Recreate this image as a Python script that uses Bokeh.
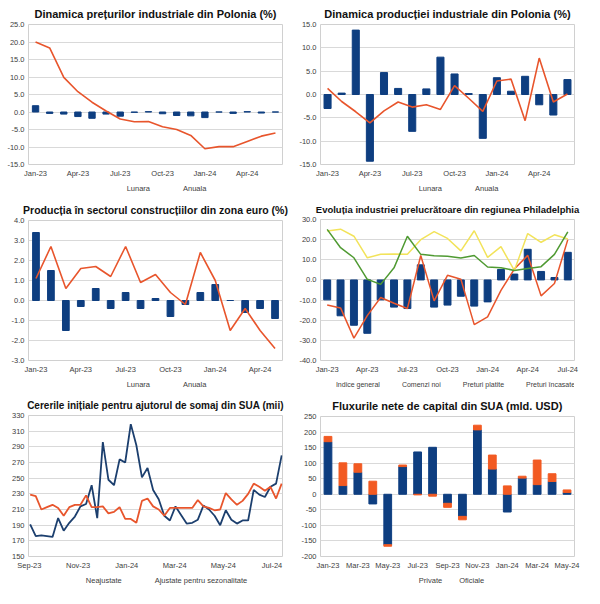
from datetime import datetime
from bokeh.plotting import figure
from bokeh.models import Range1d, FixedTicker, Legend, LegendItem
from bokeh.layouts import row, column
from bokeh.embed import file_html
from bokeh.resources import INLINE

# ---------------- data ----------------
months_23_24 = ["Jan-23", "Feb-23", "Mar-23", "Apr-23", "May-23", "Jun-23", "Jul-23", "Aug-23",
                "Sep-23", "Oct-23", "Nov-23", "Dec-23", "Jan-24", "Feb-24", "Mar-24", "Apr-24",
                "May-24", "Jun-24", "Jul-24"]

# 1. Dinamica preturilor industriale din Polonia (Jan-23 .. Jun-24)
ppi_lunara = [1.8, -0.4, -0.6, -1.3, -1.8, -0.6, -1.2, -0.1, 0.1, -0.5, -1.0, -1.1,
              -1.6, 0.0, -0.4, 0.1, -0.3, 0.0]
ppi_anuala = [20.0, 18.3, 9.9, 5.8, 2.8, 0.3, -2.0, -2.8, -2.7, -4.2, -5.0, -6.7,
              -10.5, -9.9, -9.9, -8.4, -6.9, -6.0]
ppi_yticks = [-15, -10, -5, 0, 5, 10, 15, 20, 25]

# 2. Dinamica productiei industriale din Polonia (Jan-23 .. Jun-24)
ip_lunara = [-3.0, 0.3, 13.8, -14.3, 4.7, 1.3, -7.9, 1.2, 8.0, 4.4, 0.2, -9.4,
             3.6, 0.7, 3.9, -2.2, -4.4, 3.2]
ip_anuala = [1.3, -1.5, -3.7, -6.1, -3.5, -1.6, -2.7, -2.2, -3.2, 1.9, -0.8, -3.6,
             2.9, 3.3, -5.6, 7.8, -1.6, 0.1]
ip_yticks = [-15, -10, -5, 0, 5, 10, 15]

# 3. Productia in sectorul constructiilor din zona euro (Jan-23 .. May-24)
con_lunara = [3.4, 1.5, -1.5, -0.3, 0.6, -0.4, 0.4, -0.4, 0.1, -0.8, -0.2, 0.4,
              0.8, 0.0, -0.6, -0.4, -0.9]
con_anuala = [1.1, 2.7, 0.6, 1.6, 1.7, 1.2, 2.7, 0.9, 1.3, 0.4, -0.2, 2.4,
              1.0, -1.5, -0.4, -1.5, -2.4]
con_yticks = [-3, -2, -1, 0, 1, 2, 3, 4]

# 4. Philadelphia (Jan-23 .. Jul-24)
ph_indice = [-9.9, -17.8, -22.5, -26.5, -9.9, -13.5, -14.2, 7.5, -13.5, -12.5, -8.1, -13.0,
             -10.9, 5.2, 2.9, 15.2, 4.2, 1.2, 13.7]
ph_comenzi = [-12.5, -13.9, -28.9, -17.7, -8.7, -11.6, -14.2, 12.1, -10.4, 2.3, 0.3, -22.2,
              -18.3, -5.2, 5.4, 12.2, -7.9, -1.8, 20.0]
ph_platite = [24.3, 25.2, 21.7, 11.0, 12.7, 12.9, 12.7, 20.0, 24.0, 20.6, 14.4, 24.4,
              11.2, 16.5, 4.7, 23.0, 18.7, 22.4, 20.3]
ph_incasate = [25.1, 16.0, 11.0, 0.3, -2.2, 6.0, 21.7, 12.7, 12.0, 11.8, 10.9, 12.1,
               6.4, 6.1, 4.7, 5.7, 6.6, 12.7, 23.9]
ph_yticks = [-40, -30, -20, -10, 0, 10, 20, 30]

# 5. Cererile initiale de somaj SUA (weekly, first week ending 2 Sep 2023)
claims_start = datetime(2023, 9, 2)
claims_nsa = [191, 176, 177, 176, 175, 199, 183, 193, 201, 214, 217, 241, 199, 296, 248, 241,
              274, 270, 319, 292, 251, 263, 235, 223, 202, 196, 214, 203, 192, 193, 197, 215,
              210, 202, 190, 209, 197, 192, 196, 196, 235, 229, 226, 239, 243, 279]
claims_sa = [229, 227, 210, 213, 216, 212, 202, 213, 216, 216, 228, 213, 213, 214, 205, 207,
             213, 198, 198, 193, 221, 224, 214, 210, 202, 212, 212, 212, 212, 212, 222, 214,
             212, 209, 210, 231, 223, 216, 221, 230, 243, 239, 234, 239, 224, 243]
claims_tick_labels = ["Sep-23", "Nov-23", "Jan-24", "Mar-24", "May-24", "Jul-24"]
claims_tick_dates = [datetime(2023, 9, 1), datetime(2023, 11, 1), datetime(2024, 1, 1),
                     datetime(2024, 3, 1), datetime(2024, 5, 1), datetime(2024, 7, 1)]
claims_yticks = [150, 170, 190, 210, 230, 250, 270, 290, 310, 330]

# 6. Fluxurile nete de capital SUA (Jan-23 .. May-24)
flux_private = [169, 28, 71, -31, -162, 89, 136, 151, -29, -71, 207, 81, -57, 52, 31, 41, 6]
flux_oficiale = [17, 73, 27, 42, -5, 5, -2, -6, -13, -11, 15, 45, 27, 6, 79, 25, 8]
flux_yticks = [-200, -150, -100, -50, 0, 50, 100, 150, 200, 250]

# ---------------- style ----------------
W = 292
H_MAIN, H_LEG = 180, 16
NAVY = "#0e3e80"
ORANGE = "#e8552c"
ORANGE6 = "#f25a22"
YELLOW = "#f2e35a"
GREEN = "#4f9a32"
NAVY_LINE = "#1c3f6e"
TITLE_FONT = "Liberation Sans"
TXT_FONT = "Liberation Sans"
TXT_COLOR = "#404040"


def base_fig(title, title_size, x_range, y_range):
    p = figure(width=W, height=H_MAIN, x_range=x_range, y_range=y_range, title=title,
               output_backend="svg", toolbar_location=None, tools="")
    p.title.align = "center"
    p.title.text_font = TITLE_FONT
    p.title.text_font_size = title_size
    p.title.text_font_style = "bold"
    p.title.text_color = "#111111"
    p.xgrid.grid_line_color = None
    p.ygrid.grid_line_color = "#d9d9d9"
    p.outline_line_color = "#d0d0d0"
    for ax in (p.xaxis, p.yaxis):
        ax.axis_line_color = None
        ax.major_tick_line_color = None
        ax.minor_tick_line_color = None
        ax.major_tick_out = 0
        ax.major_tick_in = 0
        ax.minor_tick_out = 0
        ax.minor_tick_in = 0
        ax.major_label_text_font = TXT_FONT
        ax.major_label_text_font_size = "7.5px"
        ax.major_label_text_color = TXT_COLOR
        ax.major_label_standoff = 4
    p.min_border_left = 28
    p.min_border_right = 10
    p.min_border_top = 4
    p.min_border_bottom = 2
    return p


def set_x_ticks(p, positions, labels):
    p.xaxis.ticker = FixedTicker(ticks=list(positions))
    p.xaxis.major_label_overrides = {pos: lab for pos, lab in zip(positions, labels)}


def set_y_ticks(p, ticks, decimals):
    p.yaxis.ticker = FixedTicker(ticks=list(ticks))
    fmt = "{:.%df}" % decimals
    p.yaxis.major_label_overrides = {t: fmt.format(t) for t in ticks}


def legend_fig(entries, gw=20, gh=6, spacing=10, font_size="7.5px"):
    """A thin strip under a chart that holds only its legend.
    entries: list of (label, kind, color) with kind 'bar' or 'line'."""
    q = figure(width=W, height=H_LEG, x_range=Range1d(0, 1), y_range=Range1d(0, 1),
               output_backend="svg", toolbar_location=None, tools="",
               x_axis_location=None, y_axis_location=None)
    q.min_border = 0
    q.outline_line_color = None
    q.xgrid.grid_line_color = None
    q.ygrid.grid_line_color = None
    items = []
    for label, kind, color in entries:
        if kind == "bar":
            r = q.vbar(x=[], top=[], width=0.5, fill_color=color, line_color=color)
        else:
            r = q.line(x=[], y=[], line_color=color, line_width=1.6)
        items.append(LegendItem(label=label, renderers=[r]))
    lg = Legend(items=items, orientation="horizontal", location="center",
                border_line_color=None, background_fill_alpha=0,
                label_text_font=TXT_FONT, label_text_font_size=font_size,
                label_text_color=TXT_COLOR, label_height=9, label_standoff=3,
                glyph_width=gw, glyph_height=gh, spacing=spacing, padding=2, margin=0)
    q.add_layout(lg)
    return q


def bar_line_panel(title, title_size, labels, bars, line, yticks, bw):
    n = len(bars)
    idx = list(range(n))
    p = base_fig(title, title_size, Range1d(-0.5, n - 0.5), Range1d(yticks[0], yticks[-1]))
    tick_pos = list(range(0, n, 3))
    set_x_ticks(p, tick_pos, [labels[i] for i in tick_pos])
    set_y_ticks(p, yticks, 1)
    p.vbar(x=idx, top=bars, bottom=0, width=bw, fill_color=NAVY, line_color=NAVY)
    p.line(idx, line, line_color=ORANGE, line_width=1.6)
    q = legend_fig([("Lunara", "bar", NAVY), ("Anuala", "line", ORANGE)])
    return column(p, q)


c1 = bar_line_panel("Dinamica prețurilor industriale din Polonia (%)", "11px", months_23_24,
                    ppi_lunara, ppi_anuala, ppi_yticks, 0.45)
c2 = bar_line_panel("Dinamica producției industriale din Polonia (%)", "11px", months_23_24,
                    ip_lunara, ip_anuala, ip_yticks, 0.5)
c3 = bar_line_panel("Producția în sectorul construcțiilor din zona euro (%)", "10.5px",
                    months_23_24, con_lunara, con_anuala, con_yticks, 0.45)

# panel 4
n4 = len(ph_indice)
idx4 = list(range(n4))
p4 = base_fig("Evoluția industriei prelucrătoare din regiunea Philadelphia", "9.5px",
              Range1d(-0.5, n4 - 0.5), Range1d(ph_yticks[0], ph_yticks[-1]))
tp4 = list(range(0, n4, 3))
set_x_ticks(p4, tp4, [months_23_24[i] for i in tp4])
set_y_ticks(p4, ph_yticks, 1)
p4.vbar(x=idx4, top=ph_indice, bottom=0, width=0.52, fill_color=NAVY, line_color=NAVY)
p4.line(idx4, ph_comenzi, line_color=ORANGE, line_width=1.5)
p4.line(idx4, ph_platite, line_color=YELLOW, line_width=1.5)
p4.line(idx4, ph_incasate, line_color=GREEN, line_width=1.5)
q4 = legend_fig([("Indice general", "bar", NAVY), ("Comenzi noi", "line", ORANGE),
                 ("Preturi platite", "line", YELLOW), ("Preturi încasate", "line", GREEN)],
                gw=14, spacing=5, font_size="7px")
c4 = column(p4, q4)

# panel 5 (x = week number since the first week)
n5 = len(claims_nsa)
idx5 = list(range(n5))
tp5 = [round((d - claims_start).days / 7.0, 3) for d in claims_tick_dates]
p5 = base_fig("Cererile inițiale pentru ajutorul de somaj din SUA (mii)", "10px",
              Range1d(-0.3, n5 - 1 + 0.15), Range1d(claims_yticks[0], claims_yticks[-1]))
set_x_ticks(p5, tp5, claims_tick_labels)
set_y_ticks(p5, claims_yticks, 0)
p5.line(idx5, claims_nsa, line_color=NAVY_LINE, line_width=1.8)
p5.line(idx5, claims_sa, line_color=ORANGE, line_width=1.8)
q5 = legend_fig([("Neajustate", "line", NAVY_LINE),
                 ("Ajustate pentru sezonalitate", "line", ORANGE)])
c5 = column(p5, q5)

# panel 6 (stacked: positives on positives, negatives on negatives)
n6 = len(flux_private)
idx6 = list(range(n6))
pos_cum = [max(v, 0) for v in flux_private]
neg_cum = [min(v, 0) for v in flux_private]
of_bottom = [pos_cum[i] if o >= 0 else neg_cum[i] for i, o in enumerate(flux_oficiale)]
of_top = [b + o for b, o in zip(of_bottom, flux_oficiale)]
p6 = base_fig("Fluxurile nete de capital din SUA (mld. USD)", "11px",
              Range1d(-0.5, n6 - 0.5), Range1d(flux_yticks[0], flux_yticks[-1]))
tp6 = list(range(0, n6, 2))
set_x_ticks(p6, tp6, [months_23_24[i] for i in tp6])
set_y_ticks(p6, flux_yticks, 0)
p6.vbar(x=idx6, bottom=0, top=flux_private, width=0.52, fill_color=NAVY, line_color=NAVY)
p6.vbar(x=idx6, bottom=of_bottom, top=of_top, width=0.52, fill_color=ORANGE6,
        line_color=ORANGE6)
q6 = legend_fig([("Private", "bar", NAVY), ("Oficiale", "bar", ORANGE6)],
                gw=6, gh=6, spacing=8)
c6 = column(p6, q6)

layout = column(row(c1, c2), row(c3, c4), row(c5, c6))

open("out.html", "w").write(file_html(layout, INLINE))
